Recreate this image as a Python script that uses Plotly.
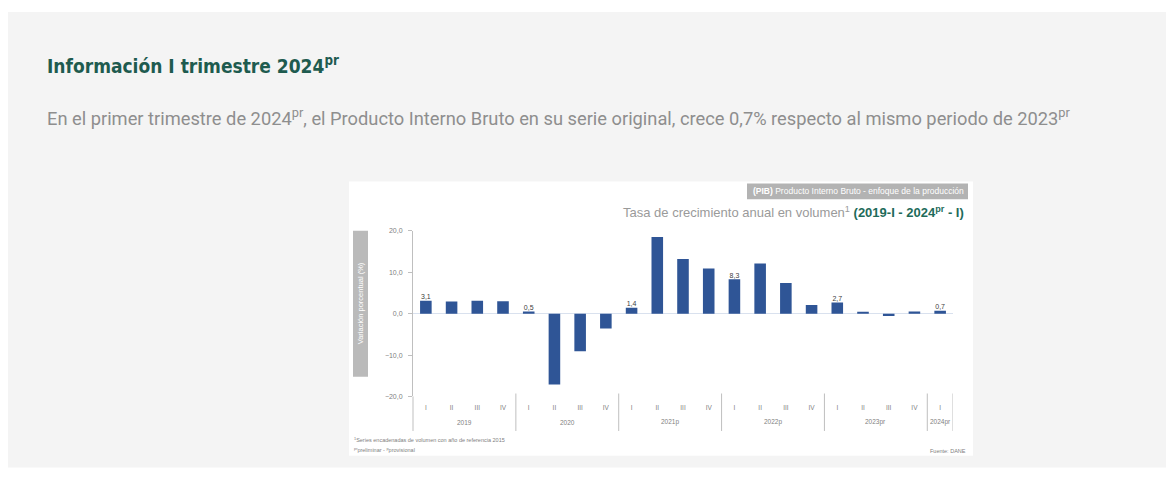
import plotly.graph_objects as go

years = ["2019"] * 4 + ["2020"] * 4 + ["2021p"] * 4 + ["2022p"] * 4 + ["2023pr"] * 4 + ["2024pr"]
quarters = ["I", "II", "III", "IV"] * 5 + ["I"]
values = [3.1, 2.9, 3.1, 3.0,
          0.5, -17.1, -9.1, -3.6,
          1.4, 18.5, 13.2, 10.9,
          8.3, 12.1, 7.4, 2.1,
          2.7, 0.3, -0.6, 0.5,
          0.7]
y_ticks = [-20, -10, 0, 10, 20]

pos = list(range(len(values)))
lab_idx = [i for i, q in enumerate(quarters) if q == "I"]
lab_values = [values[i] for i in lab_idx]
lab_text = [f"{v:.1f}".replace(".", ",") for v in lab_values]

# year groups
groups = []
for i, yv in enumerate(years):
    if not groups or groups[-1][0] != yv:
        groups.append([yv, i, i])
    else:
        groups[-1][2] = i

W, H = 1174, 503
def px(x):
    return x / W
def py(y):
    return (H - y) / H

fig = go.Figure()
fig.add_trace(go.Bar(
    x=pos, y=values,
    marker=dict(color="#2f5596", line=dict(width=0)),
    hoverinfo="skip",
))
fig.add_trace(go.Scatter(
    x=lab_idx, y=lab_values, mode="text",
    text=lab_text, textposition="top center",
    textfont=dict(size=7, color="#404040", family="Liberation Sans"),
    cliponaxis=False, hoverinfo="skip",
))

shapes = [
    dict(type="rect", xref="paper", yref="paper", x0=px(8), x1=px(1166), y0=py(470), y1=py(8),
         fillcolor="#f4f4f4", line=dict(width=0), layer="below"),
    dict(type="rect", xref="paper", yref="paper", x0=px(349), x1=px(973), y0=py(458), y1=py(180),
         fillcolor="#ffffff", line=dict(width=0), layer="below"),
    dict(type="rect", xref="paper", yref="paper", x0=px(747), x1=px(968), y0=py(198), y1=py(182),
         fillcolor="#b3b3b3", line=dict(width=0), layer="below"),
    dict(type="rect", xref="paper", yref="paper", x0=px(353), x1=px(368), y0=py(378), y1=py(230),
         fillcolor="#bababa", line=dict(width=0), layer="below"),
    # y axis extension down through the category labels
    dict(type="line", xref="paper", yref="paper", x0=px(413), x1=px(413), y0=py(398), y1=py(433),
         line=dict(color="#bfbfbf", width=1)),
]
# group dividers
for name, a, b in groups:
    shapes.append(dict(type="line", xref="x", yref="paper", x0=b + 0.5, x1=b + 0.5,
                       y0=py(433), y1=py(395), line=dict(color="#bfbfbf", width=1)))

def A(text, x, y, xanchor="left", size=10, color="#808080", family="Liberation Sans", **kw):
    return dict(text=text, xref="paper", yref="paper", x=px(x), y=py(y), xanchor=xanchor, yanchor="middle",
                font=dict(size=size, color=color, family=family), showarrow=False, **kw)

ann = [
    A("<b>Información I trimestre 2024<sup>pr</sup></b>", 45, 62, size=19, color="#1e5b4f",
      family="DejaVu Sans Condensed"),
    A("En el primer trimestre de 2024<sup>pr</sup>, el Producto Interno Bruto en su serie original, crece 0,7% respecto al mismo periodo de 2023<sup>pr</sup>",
      45, 115, size=18.3, color="#8e8e8e", family="Roboto"),
    A("<b>(PIB)</b> Producto Interno Bruto - enfoque de la producción", 966, 190, xanchor="right",
      size=8.5, color="#ffffff", family="Liberation Sans"),
    A("Tasa de crecimiento anual en volumen<sup>1</sup> <span style='color:#1e6b5a'><b>(2019-I - 2024<sup>pr</sup> - I)</b></span>",
      966, 211, xanchor="right", size=13, color="#9a9a9a", family="Liberation Sans"),
    A("Variación porcentual (%)", 360.5, 304, xanchor="center", size=7.5, color="#ffffff", textangle=-90),
    A("<sup>1</sup>Series encadenadas de volumen con año de referencia 2015", 352, 442, size=5.5),
    A("<sup>pr</sup>preliminar - <sup>p</sup>provisional", 352, 452, size=5.5),
    A("Fuente: DANE", 968, 453, xanchor="right", size=5.5),
]
for name, a, b in groups:
    ann.append(dict(text=name, xref="x", yref="paper", x=(a + b) / 2, y=py(424),
                    xanchor="center", yanchor="middle", showarrow=False,
                    font=dict(size=6.5, color="#7f7f7f", family="Liberation Sans")))

fig.update_layout(
    width=W, height=H, autosize=False,
    margin=dict(l=0, r=0, t=0, b=0),
    paper_bgcolor="#ffffff", plot_bgcolor="rgba(0,0,0,0)",
    separators=",.",
    showlegend=False, bargap=0.55,
    shapes=shapes, annotations=ann,
    xaxis=dict(domain=[px(413), px(953)], range=[-0.5, len(values) - 0.5],
               tickvals=pos, ticktext=quarters, tickangle=0,
               showgrid=False, showline=False, zeroline=False, ticks="",
               ticklabelstandoff=6,
               tickfont=dict(size=6.5, color="#7f7f7f", family="Liberation Sans")),
    yaxis=dict(domain=[py(398), py(230)], range=[-20, 20], tickvals=y_ticks, tickformat=".1f",
               showgrid=False, showline=True, linecolor="#bfbfbf", linewidth=1,
               ticks="outside", ticklen=4, tickcolor="#bfbfbf", ticklabelstandoff=4,
               tickfont=dict(size=7, color="#7f7f7f", family="Liberation Sans"),
               zeroline=True, zerolinecolor="#d9e1ee", zerolinewidth=1),
)

fig.write_html("out.html", config={"displayModeBar": False},
               post_script="document.body.style.margin='0';")
